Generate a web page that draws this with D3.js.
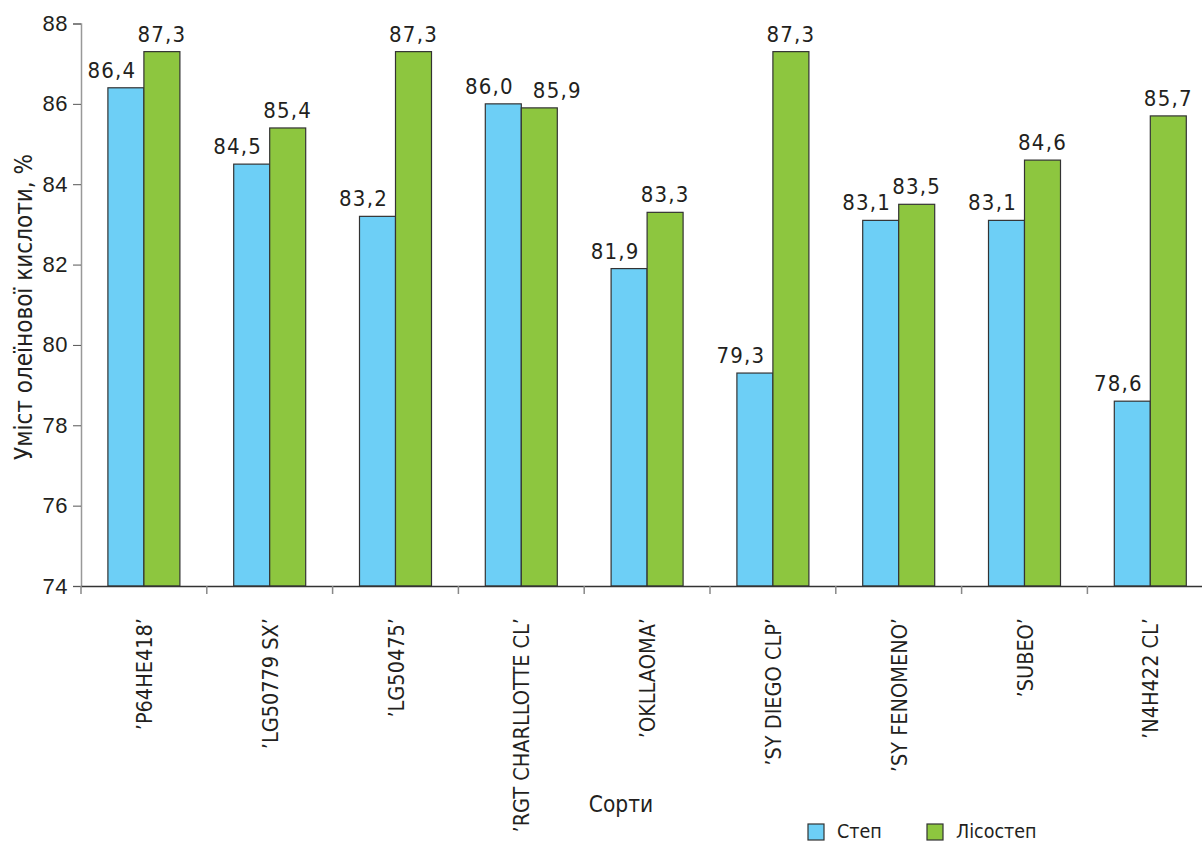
<!DOCTYPE html>
<html><head><meta charset="utf-8">
<script src="https://cdn.jsdelivr.net/npm/d3@7"></script>
<style>
html,body{margin:0;padding:0;background:#fff;}
svg{display:block;font-family:"DejaVu Sans Condensed","Liberation Sans Narrow",sans-serif;}
</style></head>
<body>
<script>
const categories = ["’P64HE418’","’LG50779 SX’","’LG50475’","’RGT CHARLLOTTE CL’","’OKLLAOMA’","’SY DIEGO CLP’","’SY FENOMENO’","’SUBEO’","’N4H422 CL’"];
const seriesNames = ["Степ","Лісостеп"];
const step = [86.4,84.5,83.2,86.0,81.9,79.3,83.1,83.1,78.6];
const lisostep = [87.3,85.4,87.3,85.9,83.3,87.3,83.5,84.6,85.7];
const yTicks = [74,76,78,80,82,84,86,88];
const colors = ["#6dcff6","#8dc63f"];

const W=1202,H=843;
const svg=d3.select("body").append("svg").attr("width",W).attr("height",H);
const x0=81, x1=81+125.8*9, yTop=23.5, yBot=586;
const x=d3.scaleBand().domain(categories).range([x0,x1]).paddingInner(0).paddingOuter(0);
const xs=d3.scaleBand().domain(seriesNames).range([0,72]);
const y=d3.scaleLinear().domain([74,88]).range([yBot,yTop]);
const txt="#231f20";
const fmt=v=>d3.format(".1f")(v).replace(".",",");

// bars
const data=[step,lisostep];
categories.forEach((c,i)=>{
  const g=svg.append("g").attr("transform",`translate(${x(c)+x.bandwidth()/2-36},0)`);
  const close=Math.abs(step[i]-lisostep[i])<0.2;
  seriesNames.forEach((s,j)=>{
    const v=data[j][i];
    g.append("rect").attr("x",xs(s)).attr("y",y(v)).attr("width",xs.bandwidth()).attr("height",y(74)-y(v))
      .attr("fill",colors[j]).attr("stroke","#333").attr("stroke-width",1.2);
    const dx = j===0 ? -14 : (close?18:0);
    g.append("text").attr("x",xs(s)+xs.bandwidth()/2+dx).attr("y",y(v)-10).attr("text-anchor","middle")
      .attr("font-size",22).attr("letter-spacing",1.2).attr("fill",txt).text(fmt(v));
  });
});

// y axis
const ya=svg.append("g").attr("transform",`translate(${x0},0)`)
  .call(d3.axisLeft(y).tickValues(yTicks).tickSize(8).tickPadding(5).tickFormat(d=>d));
ya.select(".domain").attr("stroke","#999").attr("stroke-width",1.5);
ya.selectAll(".tick line").attr("stroke","#555");
ya.selectAll("text").attr("font-size",22).attr("fill",txt).attr("font-family","inherit").attr("letter-spacing",0.5);

// x axis
const xa=svg.append("g").attr("transform",`translate(0,${yBot})`)
  .call(d3.axisBottom(x).tickSize(0).tickFormat(""));
xa.select(".domain").attr("stroke","#333").attr("stroke-width",1.5);
d3.range(0,categories.length+1).forEach(k=>{
  const xx=x0+x.step()*k;
  svg.append("line").attr("x1",xx).attr("x2",xx).attr("y1",yBot).attr("y2",yBot+8).attr("stroke","#888").attr("stroke-width",1.5);
});
categories.forEach(c=>{
  svg.append("text").attr("transform",`translate(${x(c)+x.bandwidth()/2+8},618) rotate(-90)`)
    .attr("text-anchor","end").attr("font-size",21.5).attr("fill",txt).text(c);
});

// titles
svg.append("text").attr("x",621).attr("y",812).attr("text-anchor","middle").attr("font-size",22.5).attr("fill",txt).text("Сорти");
svg.append("text").attr("transform",`translate(32,307) rotate(-90)`).attr("text-anchor","middle").attr("font-size",24).attr("fill",txt).text("Уміст олеїнової кислоти, %");

// legend
const leg=[[808,"Степ"],[927,"Лісостеп"]];
leg.forEach((l,i)=>{
  svg.append("rect").attr("x",l[0]).attr("y",824).attr("width",16).attr("height",16).attr("fill",colors[i]).attr("stroke","#333").attr("stroke-width",1.2);
  svg.append("text").attr("x",l[0]+29).attr("y",838).attr("font-size",19.5).attr("fill",txt).text(l[1]);
});
</script>
</body></html>
